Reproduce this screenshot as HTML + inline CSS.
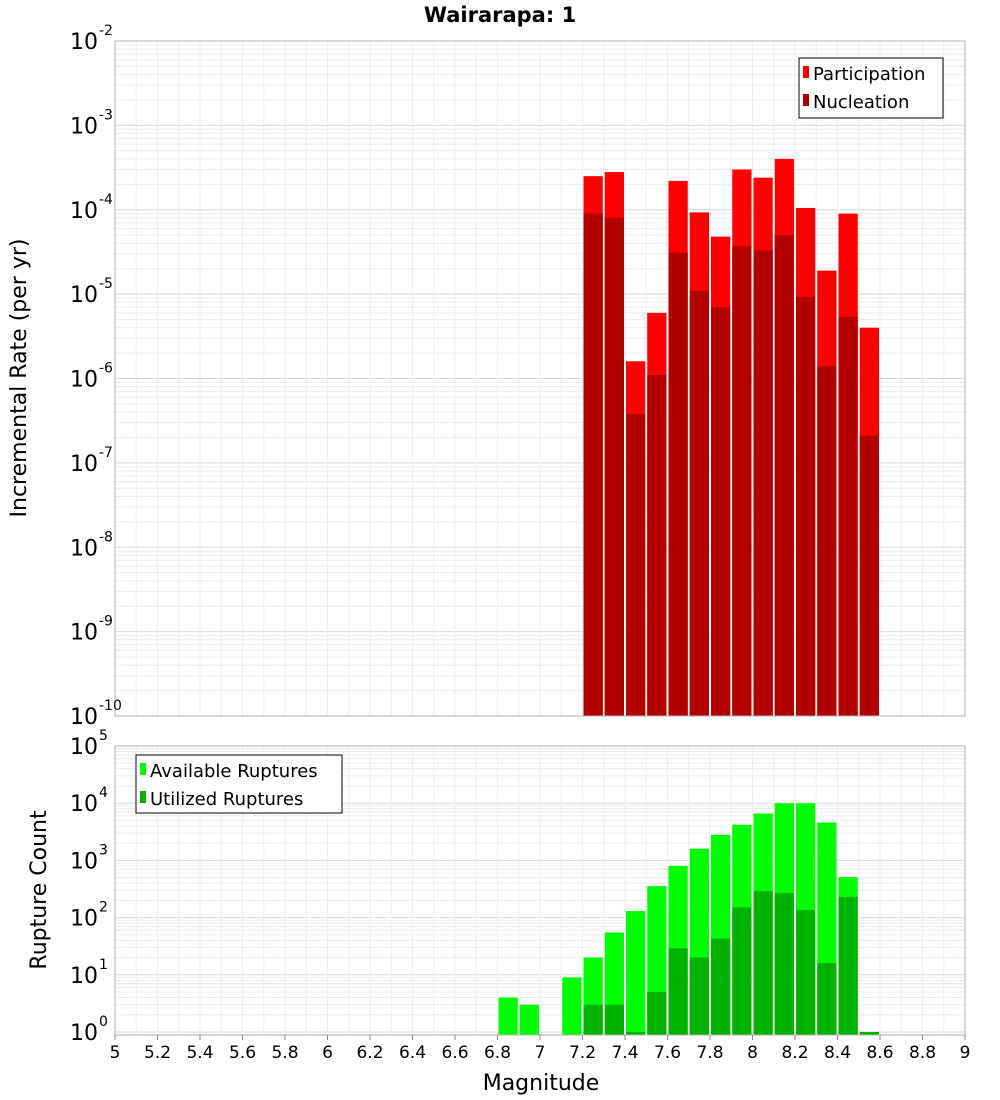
<!DOCTYPE html>
<html><head><meta charset="utf-8"><style>
html,body{margin:0;padding:0;background:#fff;}
svg{display:block;font-family:"DejaVu Sans","Liberation Sans",sans-serif;}
</style></head><body>
<svg id="chart" width="1000" height="1100" xmlns="http://www.w3.org/2000/svg">
<text x="500" y="22" text-anchor="middle" font-size="21" font-weight="bold">Wairarapa: 1</text>
<g id="top"></g>
<g id="bot"></g>
<text x="541" y="1090" text-anchor="middle" font-size="22">Magnitude</text>
<text transform="translate(26,378) rotate(-90)" text-anchor="middle" font-size="22">Incremental Rate (per yr)</text>
<text transform="translate(46,890) rotate(-90)" text-anchor="middle" font-size="22">Rupture Count</text>
</svg>
<script>
const mags = [7.25,7.35,7.45,7.55,7.65,7.75,7.85,7.95,8.05,8.15,8.25,8.35,8.45,8.55];
const participation = [2.5e-4,2.8e-4,1.6e-6,6e-6,2.2e-4,9.3e-5,4.8e-5,3e-4,2.4e-4,4e-4,1.05e-4,1.9e-5,9e-5,4e-6];
const nucleation = [9e-5,8e-5,3.8e-7,1.1e-6,3.1e-5,1.1e-5,7e-6,3.7e-5,3.3e-5,5e-5,9.3e-6,1.4e-6,5.4e-6,2.1e-7];
const availMags = [6.85,6.95,7.15,7.25,7.35,7.45,7.55,7.65,7.75,7.85,7.95,8.05,8.15,8.25,8.35,8.45];
const available = [4,3,9,20,55,130,355,800,1600,2800,4200,6600,10000,10000,4600,510];
const utilMags = [7.25,7.35,7.45,7.55,7.65,7.75,7.85,7.95,8.05,8.15,8.25,8.35,8.45,8.55];
const utilized = [3,3,1,5,29,20,43,150,290,270,135,16,230,1];
const xTicks = [5,5.2,5.4,5.6,5.8,6,6.2,6.4,6.6,6.8,7,7.2,7.4,7.6,7.8,8,8.2,8.4,8.6,8.8,9];
const topExps = [-2,-3,-4,-5,-6,-7,-8,-9,-10];
const botExps = [5,4,3,2,1,0];

const NS="http://www.w3.org/2000/svg";
const L=115,R=965;
const xs=m=>L+(m-5)/4*(R-L);
function mk(p,tag,a){const e=document.createElementNS(NS,tag);for(const k in a)e.setAttribute(k,a[k]);p.appendChild(e);return e;}
function panel(g,top,bot,lo,hi,name){
  const ys=v=>bot-(Math.log10(v)-lo)/(hi-lo)*(bot-top);
  mk(g,'rect',{x:L,y:top,width:R-L,height:bot-top,fill:'#fff'});
  for(let e=Math.floor(lo);e<hi;e++)for(let k=1;k<10;k++){
    const v=k*Math.pow(10,e);const y=ys(v);if(y<top||y>bot)continue;
    const l=mk(g,'line',{x1:L,x2:R,y1:y,y2:y,stroke:k==1?'#d8d8d8':'#ececec','stroke-width':1});
    
  }
  for(let m=5;m<=9.001;m+=0.1){const x=xs(m);mk(g,'line',{x1:x,x2:x,y1:top,y2:bot,stroke:'#eeeeee','stroke-width':1});}
  return ys;
}
function bars(g,ms,vals,ys,bot,color,name){
  ms.forEach((m,i)=>{
    const x0=xs(m-0.05),x1=xs(m+0.05),y=Math.max(ys(vals[i]),0);
    const r=mk(g,'rect',{x:x0+1,y:y,width:x1-x0-2,height:bot-y,fill:color});
    
  });
}
function yLabels(g,exps,ys,x){
  exps.forEach(e=>{
    const y=ys(Math.pow(10,e));
    const t=mk(g,'text',{x:x,y:y+8,'text-anchor':'end','font-size':22});
    t.textContent='10';
    
    const s=mk(g,'text',{x:x+1,y:y-6,'font-size':14});s.textContent=String(e);
  });
}
const gt=document.getElementById('top');
const ysT=panel(gt,41,716,-10,-2,'top');
bars(gt,mags,participation,ysT,716,'#ff0000','participation-bar');
bars(gt,mags,nucleation,ysT,716,'#b20000','nucleation-bar');
mk(gt,'rect',{x:L,y:41,width:R-L,height:675,fill:'none',stroke:'#b0b0b0'});
yLabels(gt,topExps,ysT,98);
const lg=mk(gt,'g',{});
mk(lg,'rect',{x:799,y:58,width:144,height:60,fill:'#fff',stroke:'#000'});
mk(lg,'rect',{x:803,y:66,width:6,height:12,fill:'#ff0000'});
mk(lg,'rect',{x:803,y:94,width:6,height:12,fill:'#b20000'});
let t=mk(lg,'text',{x:813,y:80,'font-size':18});t.textContent='Participation';
t=mk(lg,'text',{x:813,y:108,'font-size':18});t.textContent='Nucleation';
const gb=document.getElementById('bot');
const ysB=panel(gb,746,1035,-0.053,5,'bottom');
bars(gb,availMags,available,ysB,1035,'#00ff00','available-bar');
bars(gb,utilMags,utilized,ysB,1035,'#00b200','utilized-bar');
mk(gb,'rect',{x:L,y:746,width:R-L,height:289,fill:'none',stroke:'#b0b0b0'});
yLabels(gb,botExps,ysB,98);
const lb=mk(gb,'g',{});
mk(lb,'rect',{x:136,y:755,width:206,height:58,fill:'#fff',stroke:'#000'});
mk(lb,'rect',{x:140,y:763,width:6,height:12,fill:'#00ff00'});
mk(lb,'rect',{x:140,y:791,width:6,height:12,fill:'#00b200'});
t=mk(lb,'text',{x:150,y:777,'font-size':18});t.textContent='Available Ruptures';
t=mk(lb,'text',{x:150,y:805,'font-size':18});t.textContent='Utilized Ruptures';
xTicks.forEach(m=>{
  const x=xs(m);
  mk(gb,'line',{x1:x,x2:x,y1:1035,y2:1040,stroke:'#888'});
  const tt=mk(gb,'text',{x:x,y:1058,'text-anchor':'middle','font-size':17});
  tt.textContent=String(m);
  
});
</script>
</body></html>
